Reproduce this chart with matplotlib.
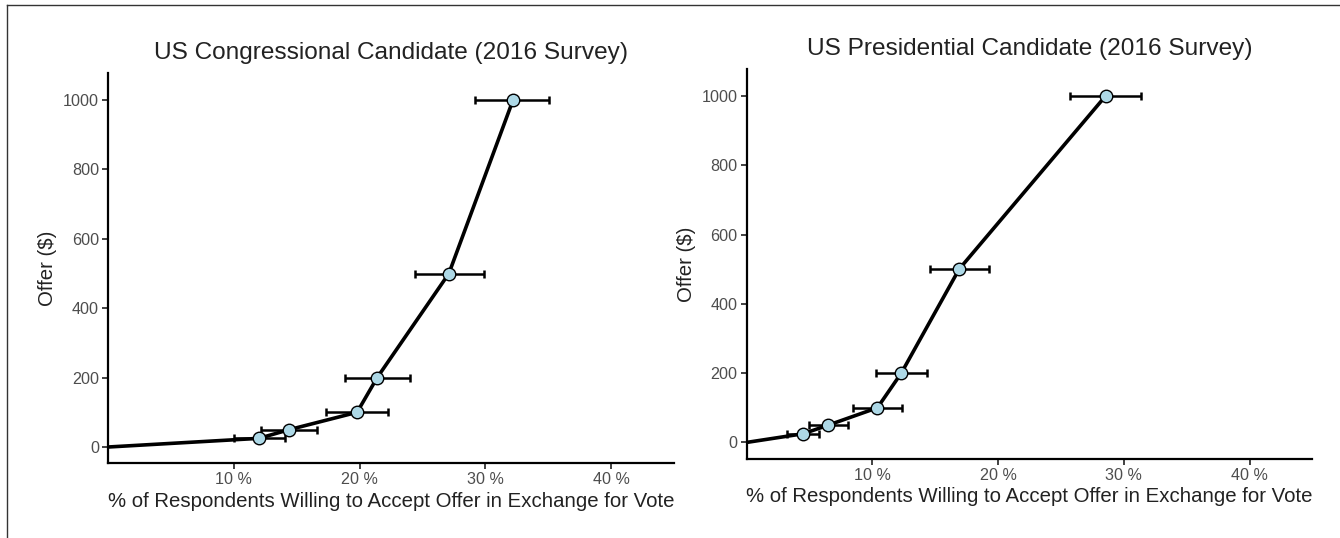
import matplotlib
matplotlib.use('agg')
import matplotlib.pyplot as plt
from matplotlib.lines import Line2D
import numpy as np

# offers in dollars, shares in percent of respondents
offers = [25, 50, 100, 200, 500, 1000]

cong_pct = [12.0, 14.4, 19.8, 21.4, 27.1, 32.2]
cong_lo  = [10.05, 12.2, 17.35, 18.85, 24.4, 29.2]
cong_hi  = [14.1, 16.6, 22.3, 24.0, 29.9, 35.05]

pres_pct = [4.5, 6.5, 10.4, 12.3, 16.9, 28.55]
pres_lo  = [3.2, 4.95, 8.47, 10.25, 14.6, 25.7]
pres_hi  = [5.78, 8.05, 12.34, 14.37, 19.28, 31.36]

titles = ['US Congressional Candidate (2016 Survey)',
          'US Presidential Candidate (2016 Survey)']
xlab = '% of Respondents Willing to Accept Offer in Exchange for Vote'
ylab = 'Offer ($)'
xticks = [10, 20, 30, 40]
yticks = [0, 200, 400, 600, 800, 1000]

plt.rcParams['font.family'] = ['Liberation Sans', 'DejaVu Sans']

fig = plt.figure(figsize=(13.4, 5.38), dpi=100)
boxes = [[0.0806, 0.1388, 0.4224, 0.7249],
         [0.5572, 0.1474, 0.4222, 0.7238]]
panels = [(cong_pct, cong_lo, cong_hi), (pres_pct, pres_lo, pres_hi)]

for box, (pct, lo, hi), title in zip(boxes, panels, titles):
    ax = fig.add_axes(box)
    pct = np.array(pct); lo = np.array(lo); hi = np.array(hi)
    off = np.array(offers)
    # curve runs from the origin through each offer level
    ax.plot(np.r_[0, pct], np.r_[0, off], color='black', lw=2.6,
            solid_capstyle='butt', zorder=2)
    ax.errorbar(pct, off, xerr=[pct - lo, hi - pct], fmt='none',
                ecolor='black', elinewidth=1.8, capsize=3.2, capthick=1.8,
                zorder=3)
    ax.plot(pct, off, 'o', ms=9, mfc='#ADD8E6', mec='black', mew=1.0,
            zorder=4)
    ax.set_xlim(0, 45)
    ax.set_ylim(-47, 1077)
    ax.set_xticks(xticks)
    ax.set_xticklabels([str(t) + ' %' for t in xticks])
    ax.set_yticks(yticks)
    for s in ['top', 'right']:
        ax.spines[s].set_visible(False)
    for s in ['left', 'bottom']:
        ax.spines[s].set_linewidth(1.6)
        ax.spines[s].set_color('black')
    ax.tick_params(axis='both', length=4, width=1.3, color='#333333',
                   labelsize=11.6, labelcolor='#4D4D4D', pad=2.5)
    ax.set_xlabel(xlab, fontsize=14.7, color='#222222', labelpad=3)
    ax.set_ylabel(ylab, fontsize=14.7, color='#222222', labelpad=4)
    ax.set_title(title, fontsize=17.6, color='#222222', pad=10)

# thin frame along the top and left edge
fig.add_artist(Line2D([0.0055, 1.0], [0.9898, 0.9898], color='#333333', lw=1.0))
fig.add_artist(Line2D([0.0055, 0.0055], [0.0, 0.9898], color='#333333', lw=1.0))

fig.savefig('out.png', dpi=100)
plt.close('all')
